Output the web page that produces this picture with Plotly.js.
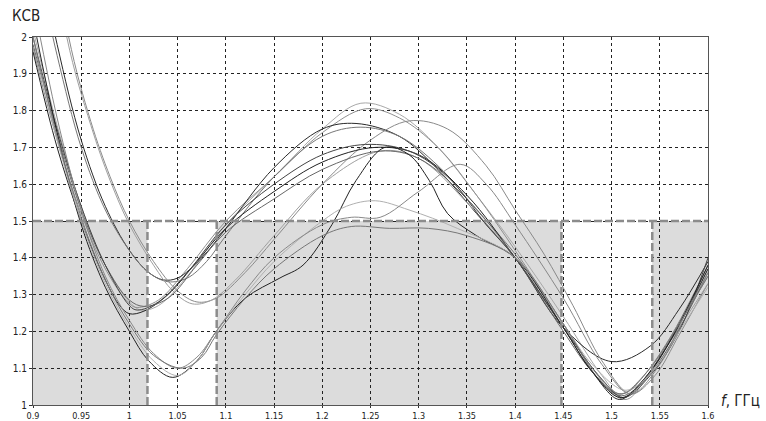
<!DOCTYPE html>
<html>
<head>
<meta charset="utf-8">
<script src="https://cdn.plot.ly/plotly-3.0.1.min.js"></script>
<style>html,body{margin:0;padding:0;background:#fff;}#chart{width:766px;height:421px;}</style>
</head>
<body>
<div id="chart"></div>
<script>
// Axis ticks
const xTicks = [0.9,0.95,1,1.05,1.1,1.15,1.2,1.25,1.3,1.35,1.4,1.45,1.5,1.55,1.6];
const xTickText = ["0.9","0.95","1","1.05","1.1","1.15","1.2","1.25","1.3","1.35","1.4","1.45","1.5","1.55","1.6"];
const yTicks = [1,1.1,1.2,1.3,1.4,1.5,1.6,1.7,1.8,1.9,2];
const yTickText = ["1","1.1","1.2","1.3","1.4","1.5","1.6","1.7","1.8","1.9","2"];

// VSWR limit and band edges (GHz)
const vswrLimit = 1.5;
const bandEdges = [1.0187, 1.0905, 1.448, 1.5422];
const shadedBands = [[0.9, 1.0187], [1.0905, 1.448], [1.5422, 1.6]];

// Measured VSWR curves (frequency GHz, VSWR)
const fA1 = [0.9,0.925,0.95,0.975,1.0,1.012,1.03,1.06,1.1,1.15,1.2,1.24,1.28,1.32,1.36,1.4,1.45,1.49,1.512,1.535,1.56,1.6];
const vA1 = [2.02,1.76,1.54,1.38,1.28,1.258,1.27,1.35,1.49,1.62,1.75,1.82,1.79,1.70,1.57,1.43,1.24,1.08,1.02,1.07,1.17,1.37];
const fA2 = [0.9,0.925,0.95,0.975,1.0,1.008,1.03,1.06,1.1,1.15,1.2,1.245,1.28,1.32,1.36,1.4,1.45,1.49,1.515,1.54,1.57,1.6];
const vA2 = [1.97,1.72,1.52,1.37,1.275,1.265,1.285,1.37,1.50,1.62,1.74,1.805,1.78,1.70,1.57,1.42,1.22,1.06,1.015,1.09,1.22,1.35];
const fA3 = [0.9,0.925,0.95,0.975,1.0,1.02,1.035,1.05,1.075,1.1,1.15,1.2,1.235,1.28,1.32,1.36,1.4,1.45,1.5,1.54,1.57,1.6];
const vA3 = [2.3,1.98,1.72,1.54,1.42,1.36,1.34,1.345,1.40,1.48,1.645,1.75,1.765,1.73,1.64,1.52,1.40,1.21,1.118,1.16,1.26,1.39];
const fA4 = [0.9,0.925,0.95,0.975,1.0,1.02,1.04,1.06,1.08,1.1,1.15,1.2,1.24,1.28,1.32,1.36,1.4,1.45,1.49,1.51,1.53,1.56,1.6];
const vA4 = [2.25,1.95,1.70,1.53,1.42,1.36,1.335,1.345,1.39,1.46,1.62,1.73,1.755,1.73,1.65,1.53,1.41,1.22,1.06,1.03,1.07,1.18,1.38];
const fA5 = [0.9,0.937,0.96,0.98,1.0,1.025,1.05,1.07,1.09,1.12,1.15,1.2,1.25,1.29,1.33,1.37,1.4,1.43,1.46,1.49,1.52,1.545,1.57,1.6];
const vA5 = [2.6,2.0,1.77,1.62,1.50,1.39,1.31,1.28,1.29,1.36,1.45,1.60,1.72,1.772,1.75,1.65,1.53,1.41,1.27,1.12,1.03,1.08,1.19,1.33];
const fA6 = [0.9,0.935,0.96,0.98,1.0,1.025,1.045,1.065,1.085,1.11,1.15,1.2,1.26,1.3,1.35,1.4,1.45,1.48,1.505,1.53,1.56,1.6];
const vA6 = [2.6,2.0,1.76,1.61,1.49,1.38,1.31,1.275,1.285,1.34,1.46,1.60,1.69,1.67,1.55,1.40,1.22,1.10,1.03,1.06,1.17,1.33];
const fA7 = [0.9,0.925,0.95,0.975,0.99,1.0,1.015,1.04,1.07,1.1,1.15,1.2,1.255,1.3,1.35,1.4,1.45,1.48,1.508,1.53,1.56,1.6];
const vA7 = [1.96,1.70,1.50,1.34,1.27,1.248,1.255,1.30,1.39,1.48,1.58,1.66,1.70,1.68,1.57,1.40,1.21,1.09,1.015,1.06,1.17,1.37];
const fA8 = [0.9,0.925,0.95,0.975,1.0,1.015,1.04,1.07,1.1,1.15,1.2,1.26,1.3,1.35,1.4,1.45,1.48,1.51,1.535,1.56,1.6];
const vA8 = [1.98,1.74,1.53,1.38,1.285,1.268,1.29,1.38,1.47,1.56,1.64,1.69,1.67,1.56,1.40,1.20,1.09,1.025,1.07,1.16,1.36];
const fC1 = [0.9,0.925,0.95,0.975,1.0,1.008,1.03,1.06,1.1,1.15,1.2,1.245,1.29,1.33,1.37,1.4,1.45,1.49,1.512,1.54,1.57,1.6];
const vC1 = [2.0,1.75,1.54,1.38,1.27,1.258,1.28,1.36,1.49,1.60,1.68,1.708,1.69,1.62,1.49,1.40,1.21,1.07,1.02,1.08,1.20,1.40];
const fB1 = [0.9,0.925,0.95,0.975,1.0,1.02,1.045,1.07,1.09,1.12,1.156,1.18,1.21,1.235,1.265,1.29,1.311,1.33,1.36,1.4,1.45,1.48,1.51,1.54,1.57,1.6];
const vB1 = [2.05,1.74,1.49,1.32,1.20,1.12,1.075,1.12,1.20,1.29,1.345,1.38,1.49,1.61,1.70,1.68,1.61,1.52,1.46,1.40,1.21,1.09,1.02,1.09,1.22,1.38];
const fB2 = [0.9,0.925,0.95,0.975,1.0,1.025,1.05,1.07,1.09,1.12,1.15,1.2,1.225,1.255,1.29,1.34,1.4,1.45,1.48,1.515,1.545,1.575,1.6];
const vB2 = [2.0,1.72,1.50,1.33,1.21,1.12,1.08,1.12,1.20,1.30,1.39,1.50,1.54,1.555,1.53,1.48,1.40,1.22,1.11,1.04,1.10,1.22,1.32];
const fB3 = [0.9,0.925,0.95,0.975,1.0,1.025,1.05,1.07,1.09,1.12,1.15,1.2,1.23,1.26,1.3,1.343,1.37,1.4,1.45,1.49,1.52,1.55,1.575,1.6];
const vB3 = [2.1,1.78,1.53,1.35,1.23,1.14,1.10,1.13,1.20,1.31,1.40,1.49,1.51,1.51,1.58,1.654,1.60,1.49,1.29,1.11,1.03,1.11,1.24,1.36];
const fB4 = [0.9,0.925,0.95,0.975,1.0,1.025,1.055,1.075,1.09,1.12,1.15,1.2,1.23,1.27,1.31,1.35,1.4,1.45,1.48,1.51,1.54,1.57,1.6];
const vB4 = [2.0,1.73,1.51,1.34,1.22,1.135,1.10,1.13,1.19,1.29,1.37,1.46,1.485,1.48,1.48,1.46,1.40,1.22,1.10,1.03,1.10,1.22,1.35];

const curves = [
  [fA1, vA1, '#a8a8a8'], [fA2, vA2, '#909090'], [fA3, vA3, '#2a2a2a'], [fA4, vA4, '#777777'],
  [fA5, vA5, '#8a8a8a'], [fA6, vA6, '#a0a0a0'], [fA7, vA7, '#222222'], [fA8, vA8, '#666666'],
  [fC1, vC1, '#444444'], [fB1, vB1, '#222222'], [fB2, vB2, '#b0b0b0'], [fB3, vB3, '#888888'],
  [fB4, vB4, '#777777']
];

const traces = curves.map(c => ({
  x: c[0], y: c[1], type: 'scatter', mode: 'lines',
  line: {color: c[2], width: 1, shape: 'spline', smoothing: 1},
  hoverinfo: 'skip', showlegend: false
}));

const shapes = [];
shadedBands.forEach(b => shapes.push({
  type: 'rect', xref: 'x', yref: 'y', x0: b[0], x1: b[1], y0: 1, y1: vswrLimit,
  fillcolor: '#dcdcdc', line: {width: 0}, layer: 'below'
}));
const dashStyle = {color: '#8c8c8c', width: 2.5, dash: '8px,3px'};
shapes.push({type: 'line', xref: 'x', yref: 'y', x0: 0.9, x1: 1.6, y0: vswrLimit, y1: vswrLimit, line: dashStyle, layer: 'above'});
bandEdges.forEach(e => shapes.push({
  type: 'line', xref: 'x', yref: 'y', x0: e, x1: e, y0: 1, y1: vswrLimit, line: dashStyle, layer: 'above'
}));

const tickFont = {family: 'DejaVu Sans Condensed, DejaVu Sans, sans-serif', size: 10, color: '#222'};
const axisCommon = {
  showgrid: true, gridcolor: '#222', gridwidth: 1, griddash: 'dot',
  zeroline: false, showline: true, linecolor: '#555', linewidth: 1, mirror: true,
  ticks: 'outside', ticklen: 3, tickcolor: '#333', tickfont: tickFont, fixedrange: true
};

const layout = {
  width: 766, height: 421,
  margin: {l: 33, r: 58, t: 37, b: 16},
  paper_bgcolor: '#fff', plot_bgcolor: '#fff',
  showlegend: false,
  xaxis: Object.assign({}, axisCommon, {range: [0.9, 1.6], tickvals: xTicks, ticktext: xTickText, ticklen: 2,
    tickfont: {family: 'DejaVu Sans Condensed, DejaVu Sans, sans-serif', size: 9, color: '#222'}}),
  yaxis: Object.assign({}, axisCommon, {range: [1, 2], tickvals: yTicks, ticktext: yTickText}),
  shapes: shapes,
  annotations: [
    {text: 'КСВ', xref: 'paper', yref: 'paper', x: -0.034, y: 1.057, xanchor: 'left', yanchor: 'middle',
     showarrow: false, font: {family: 'DejaVu Sans Condensed, DejaVu Sans, sans-serif', size: 15, color: '#222'}},
    {text: '<i>f</i>, ГГц', xref: 'paper', yref: 'paper', x: 1.016, y: 0.011, xanchor: 'left', yanchor: 'middle',
     showarrow: false, font: {family: 'DejaVu Sans Condensed, DejaVu Sans, sans-serif', size: 15, color: '#222'}}
  ]
};

Plotly.newPlot('chart', traces, layout, {staticPlot: true, displayModeBar: false});
</script>
</body>
</html>
